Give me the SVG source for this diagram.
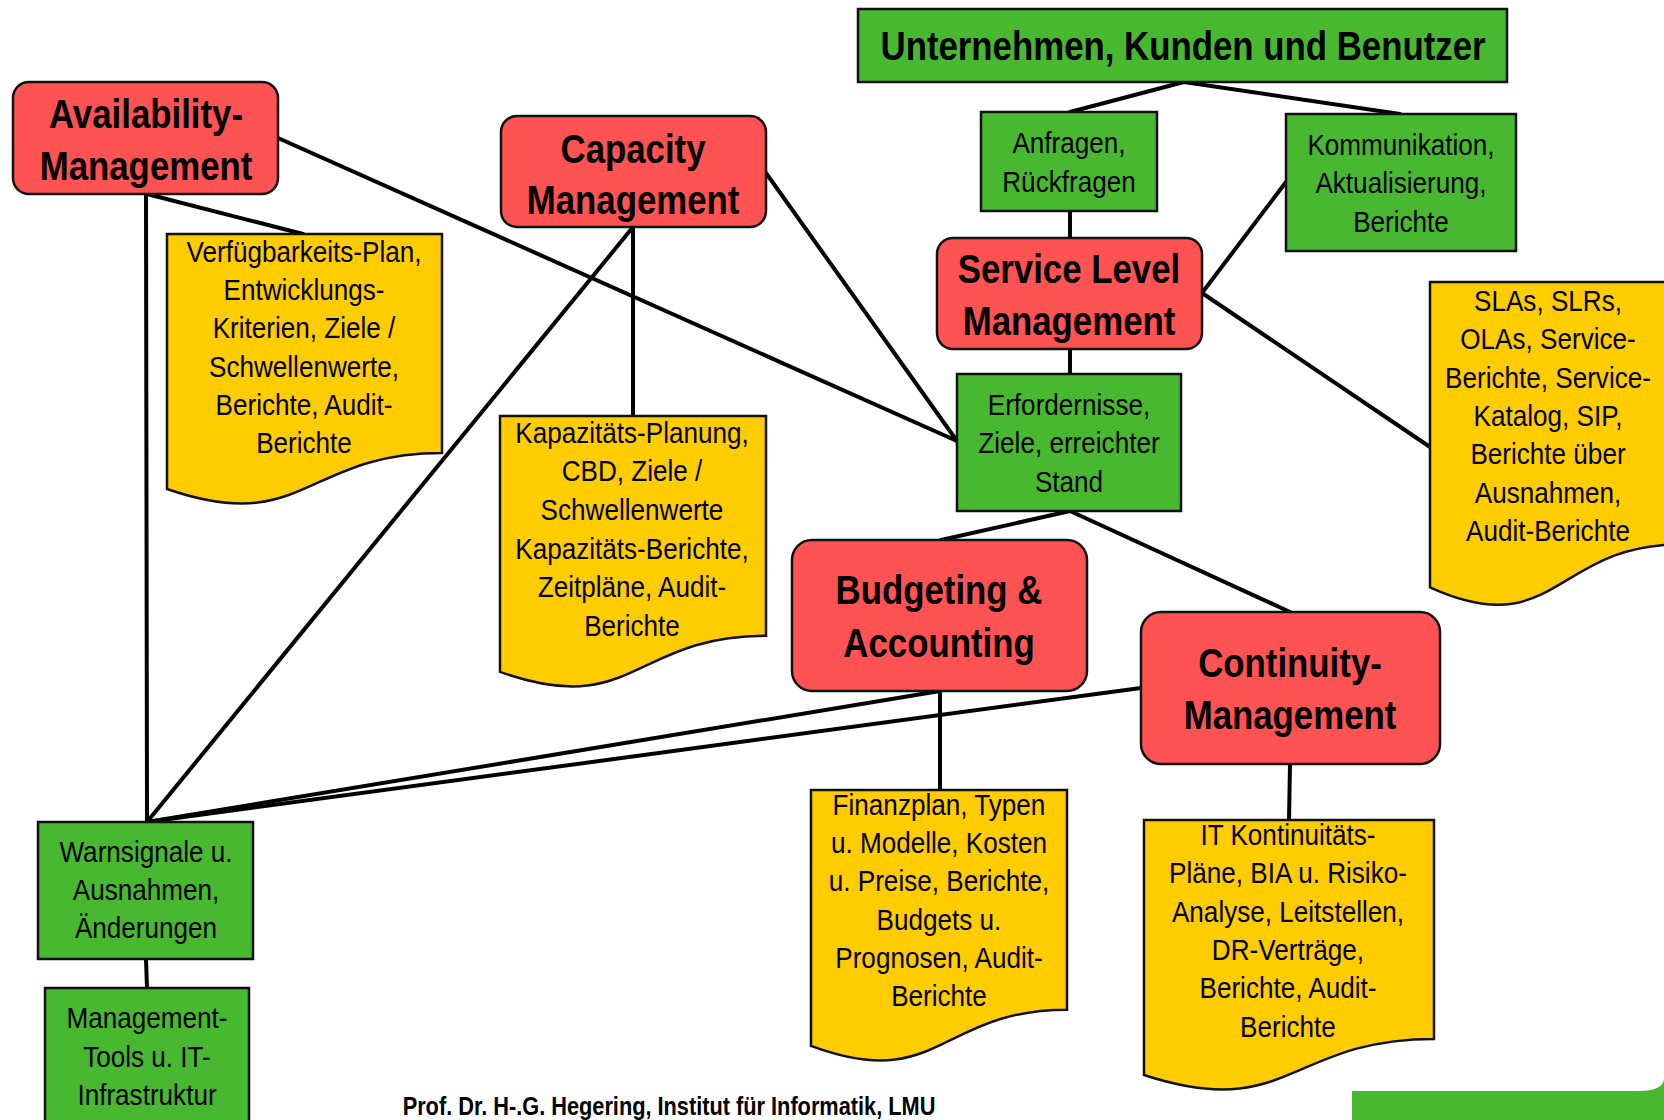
<svg xmlns="http://www.w3.org/2000/svg" width="1664" height="1120" viewBox="0 0 1664 1120">
  <style>
    .red { fill: #FF5252; stroke: #111; stroke-width: 2.5; }
    .green { fill: #47B82F; stroke: #111; stroke-width: 2.5; }
    .doc { fill: #FFCC00; stroke: #111; stroke-width: 2.5; }
    .conn { stroke: #000; stroke-width: 4; fill: none; stroke-linecap: round; }
    text { font-family: "Liberation Sans", Arial, sans-serif; fill: #000; text-anchor: middle;
           transform-box: fill-box; transform-origin: center; transform: scaleX(0.87); }
    .h { font-size: 40px; font-weight: bold; }
    .n { font-size: 30px; }
    .f { font-size: 25px; font-weight: bold; }
  </style>
  <rect width="1664" height="1120" fill="#FFFFFF"/>

  <!-- green slide frame corner, bottom right -->
  <path d="M1352,1091 H1638 Q1664,1091 1664,1078 V1120 H1352 Z" fill="#47B82F"/>

  <!-- connectors -->
  <g id="connectors">
    <line class="conn" x1="1184" y1="82" x2="1070" y2="112"/>
    <line class="conn" x1="1184" y1="82" x2="1400" y2="114"/>
    <line class="conn" x1="1070" y1="211" x2="1070" y2="238"/>
    <line class="conn" x1="1070" y1="349" x2="1070" y2="374"/>
    <line class="conn" x1="1202" y1="293" x2="1286" y2="182"/>
    <line class="conn" x1="1202" y1="293" x2="1430" y2="447"/>
    <line class="conn" x1="278" y1="138" x2="957" y2="441"/>
    <line class="conn" x1="766" y1="173" x2="957" y2="441"/>
    <line class="conn" x1="147" y1="194" x2="303" y2="234"/>
    <line class="conn" x1="146" y1="194" x2="147" y2="822"/>
    <line class="conn" x1="633" y1="227" x2="633" y2="416"/>
    <line class="conn" x1="633" y1="227" x2="147" y2="822"/>
    <line class="conn" x1="1070" y1="511" x2="941" y2="540"/>
    <line class="conn" x1="1070" y1="511" x2="1290" y2="612"/>
    <line class="conn" x1="940" y1="691" x2="940" y2="790"/>
    <line class="conn" x1="940" y1="691" x2="147" y2="822"/>
    <line class="conn" x1="1141" y1="688" x2="147" y2="822"/>
    <line class="conn" x1="1290" y1="764" x2="1289" y2="820"/>
    <line class="conn" x1="146" y1="959" x2="147" y2="988"/>
  </g>

  <!-- process nodes -->
  <g id="unternehmen">
    <rect class="green" x="858" y="9" width="649" height="73"/>
    <text class="h" x="1183" y="60">Unternehmen, Kunden und Benutzer</text>
  </g>
  <g id="availability">
    <rect class="red" x="13" y="82" width="265" height="112" rx="16"/>
    <text class="h"><tspan x="146" y="128">Availability-</tspan><tspan x="146" y="180">Management</tspan></text>
  </g>
  <g id="capacity">
    <rect class="red" x="501" y="116" width="265" height="111" rx="16"/>
    <text class="h"><tspan x="633" y="163">Capacity</tspan><tspan x="633" y="214">Management</tspan></text>
  </g>
  <g id="anfragen">
    <rect class="green" x="981" y="112" width="176" height="99"/>
    <text class="n"><tspan x="1069" y="153">Anfragen,</tspan><tspan x="1069" y="192">Rückfragen</tspan></text>
  </g>
  <g id="kommunikation">
    <rect class="green" x="1286" y="114" width="230" height="137"/>
    <text class="n"><tspan x="1401" y="155">Kommunikation,</tspan><tspan x="1401" y="193">Aktualisierung,</tspan><tspan x="1401" y="232">Berichte</tspan></text>
  </g>
  <g id="service-level">
    <rect class="red" x="937" y="238" width="265" height="111" rx="16"/>
    <text class="h"><tspan x="1069" y="283">Service Level</tspan><tspan x="1069" y="335">Management</tspan></text>
  </g>
  <g id="erfordernisse">
    <rect class="green" x="957" y="374" width="224" height="137"/>
    <text class="n"><tspan x="1069" y="415">Erfordernisse,</tspan><tspan x="1069" y="453">Ziele, erreichter</tspan><tspan x="1069" y="492">Stand</tspan></text>
  </g>
  <g id="budgeting">
    <rect class="red" x="792" y="540" width="295" height="151" rx="20"/>
    <text class="h"><tspan x="939" y="604">Budgeting &amp;</tspan><tspan x="939" y="657">Accounting</tspan></text>
  </g>
  <g id="continuity">
    <rect class="red" x="1141" y="612" width="299" height="152" rx="20"/>
    <text class="h"><tspan x="1290" y="677">Continuity-</tspan><tspan x="1290" y="729">Management</tspan></text>
  </g>
  <g id="warnsignale">
    <rect class="green" x="38" y="822" width="215" height="137"/>
    <text class="n"><tspan x="146" y="862">Warnsignale u.</tspan><tspan x="146" y="900">Ausnahmen,</tspan><tspan x="146" y="938">Änderungen</tspan></text>
  </g>
  <g id="management-tools">
    <rect class="green" x="45" y="988" width="204" height="150"/>
    <text class="n"><tspan x="147" y="1028">Management-</tspan><tspan x="147" y="1067">Tools u. IT-</tspan><tspan x="147" y="1105">Infrastruktur</tspan></text>
  </g>

  <!-- document nodes -->
  <g id="doc-availability">
    <path class="doc" d="M167,234 H442 V453 C304.5,453 304.5,536.3 167,489 Z"/>
    <text class="n"><tspan x="304" y="262">Verfügbarkeits-Plan,</tspan><tspan x="304" y="300">Entwicklungs-</tspan><tspan x="304" y="338">Kriterien, Ziele /</tspan><tspan x="304" y="377">Schwellenwerte,</tspan><tspan x="304" y="415">Berichte, Audit-</tspan><tspan x="304" y="453">Berichte</tspan></text>
  </g>
  <g id="doc-capacity">
    <path class="doc" d="M500,416 H766 V635.7 C633,635.7 633,719.5 500,671.9 Z"/>
    <text class="n"><tspan x="632" y="443">Kapazitäts-Planung,</tspan><tspan x="632" y="481">CBD, Ziele /</tspan><tspan x="632" y="520">Schwellenwerte</tspan><tspan x="632" y="559">Kapazitäts-Berichte,</tspan><tspan x="632" y="597">Zeitpläne, Audit-</tspan><tspan x="632" y="636">Berichte</tspan></text>
  </g>
  <g id="doc-service-level">
    <path class="doc" d="M1430,282 H1680 V544.3 C1555,544.3 1555,644.2 1430,587.4 Z"/>
    <text class="n"><tspan x="1548" y="311">SLAs, SLRs,</tspan><tspan x="1548" y="349">OLAs, Service-</tspan><tspan x="1548" y="388">Berichte, Service-</tspan><tspan x="1548" y="426">Katalog, SIP,</tspan><tspan x="1548" y="464">Berichte über</tspan><tspan x="1548" y="503">Ausnahmen,</tspan><tspan x="1548" y="541">Audit-Berichte</tspan></text>
  </g>
  <g id="doc-budgeting">
    <path class="doc" d="M811,790 H1067 V1009.7 C939,1009.7 939,1093.5 811,1045.9 Z"/>
    <text class="n"><tspan x="939" y="815">Finanzplan, Typen</tspan><tspan x="939" y="853">u. Modelle, Kosten</tspan><tspan x="939" y="891">u. Preise, Berichte,</tspan><tspan x="939" y="930">Budgets u.</tspan><tspan x="939" y="968">Prognosen, Audit-</tspan><tspan x="939" y="1006">Berichte</tspan></text>
  </g>
  <g id="doc-continuity">
    <path class="doc" d="M1144,820 H1434 V1038.9 C1289,1038.9 1289,1122.3 1144,1075 Z"/>
    <text class="n"><tspan x="1288" y="845">IT Kontinuitäts-</tspan><tspan x="1288" y="883">Pläne, BIA u. Risiko-</tspan><tspan x="1288" y="922">Analyse, Leitstellen,</tspan><tspan x="1288" y="960">DR-Verträge,</tspan><tspan x="1288" y="998">Berichte, Audit-</tspan><tspan x="1288" y="1037">Berichte</tspan></text>
  </g>

  <!-- footer -->
  <text class="f" x="669" y="1115">Prof. Dr. H-.G. Hegering, Institut für Informatik, LMU</text>
</svg>
